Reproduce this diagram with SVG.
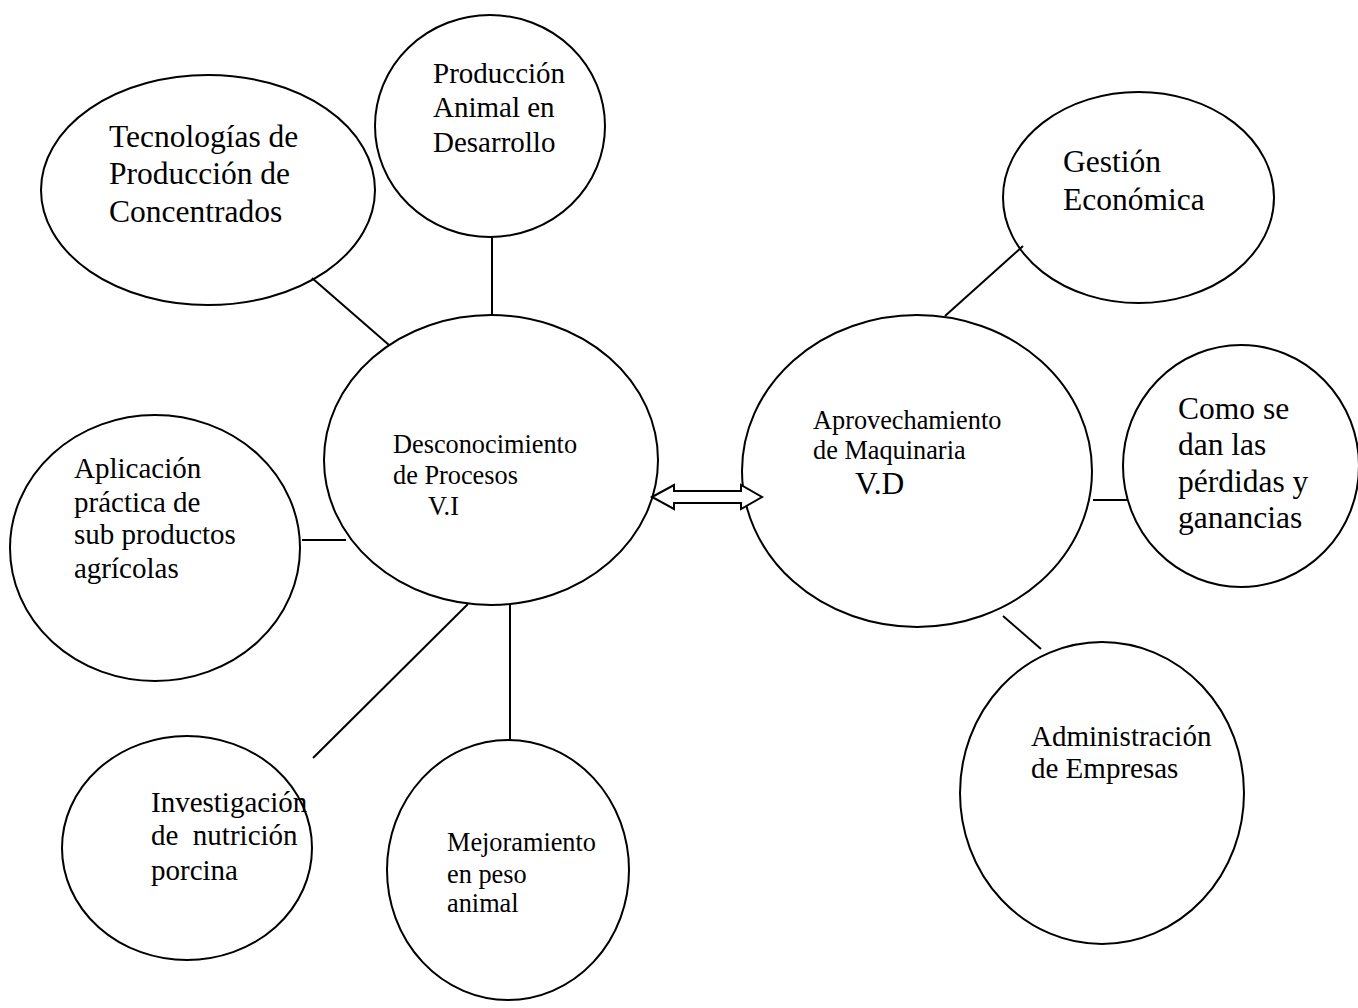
<svg xmlns="http://www.w3.org/2000/svg" width="1358" height="1008" viewBox="0 0 1358 1008">
<style>
.n{fill:#fff;stroke:#000;stroke-width:2}
.c{stroke:#000;stroke-width:2;fill:none}
text{font-family:"Liberation Serif","Times New Roman",serif;fill:#000;white-space:pre}
.l{font-size:31.5px}
.m{font-size:29px}
.s{font-size:26.3px}
</style>
<rect width="1358" height="1008" fill="#fff"/>
<g id="n1"><ellipse class="n" cx="208" cy="190" rx="167" ry="115"/>
<text class="l"><tspan x="109" y="147">Tecnologías de</tspan><tspan x="109" y="184">Producción de</tspan><tspan x="109" y="222">Concentrados</tspan></text></g>
<g id="n2"><ellipse class="n" cx="490" cy="126" rx="115" ry="111"/>
<text class="m"><tspan x="433" y="83">Producción</tspan><tspan x="433" y="117">Animal en</tspan><tspan x="433" y="152">Desarrollo</tspan></text></g>
<g id="n3"><ellipse class="n" cx="491" cy="460" rx="167" ry="145"/>
<text class="s"><tspan x="393" y="453">Desconocimiento</tspan><tspan x="393" y="484">de Procesos</tspan><tspan x="428" y="515">V.I</tspan></text></g>
<g id="n4"><ellipse class="n" cx="155" cy="548" rx="145" ry="133"/>
<text class="m"><tspan x="74" y="478">Aplicación</tspan><tspan x="74" y="512">práctica de</tspan><tspan x="74" y="544">sub productos</tspan><tspan x="74" y="578">agrícolas</tspan></text></g>
<g id="n5"><ellipse class="n" cx="187" cy="848" rx="125" ry="112"/>
<text class="m"><tspan x="151" y="812">Investigación</tspan><tspan x="151" y="845">de  nutrición</tspan><tspan x="151" y="880">porcina</tspan></text></g>
<g id="n6"><ellipse class="n" cx="508" cy="870" rx="121" ry="130"/>
<text class="s"><tspan x="447" y="851">Mejoramiento</tspan><tspan x="447" y="883">en peso</tspan><tspan x="447" y="912">animal</tspan></text></g>
<g id="n7"><ellipse class="n" cx="1138.5" cy="197.5" rx="135.5" ry="105.5"/>
<text class="l"><tspan x="1063" y="172">Gestión</tspan><tspan x="1063" y="210">Económica</tspan></text></g>
<g id="n8"><ellipse class="n" cx="917" cy="471" rx="175" ry="156"/>
<text class="s"><tspan x="813" y="429">Aprovechamiento</tspan><tspan x="813" y="459">de Maquinaria</tspan></text>
<text class="l" x="855" y="494">V.D</text></g>
<g id="n9"><ellipse class="n" cx="1241" cy="466" rx="118" ry="121"/>
<text class="l"><tspan x="1178" y="419">Como se</tspan><tspan x="1178" y="455">dan las</tspan><tspan x="1178" y="492">pérdidas y</tspan><tspan x="1178" y="528">ganancias</tspan></text></g>
<g id="n10"><ellipse class="n" cx="1102" cy="793" rx="142" ry="151"/>
<text class="m"><tspan x="1031" y="746">Administración</tspan><tspan x="1031" y="778">de Empresas</tspan></text></g>
<g id="connectors">
<line class="c" x1="312" y1="278" x2="389" y2="345"/>
<line class="c" x1="492" y1="237" x2="492" y2="315"/>
<line class="c" x1="302" y1="540" x2="346" y2="540"/>
<line class="c" x1="313" y1="758" x2="468" y2="604"/>
<line class="c" x1="510" y1="604" x2="510" y2="740"/>
<line class="c" x1="945" y1="316" x2="1023" y2="246"/>
<line class="c" x1="1093" y1="500" x2="1127" y2="500"/>
<line class="c" x1="1003" y1="616" x2="1041" y2="649"/>
<path id="biarrow" d="M652,497 L674,485 L674,491 L741,491 L741,485 L762,497 L741,509 L741,503 L674,503 L674,509 Z" fill="#fff" stroke="#000" stroke-width="2"/>
</g>
</svg>
